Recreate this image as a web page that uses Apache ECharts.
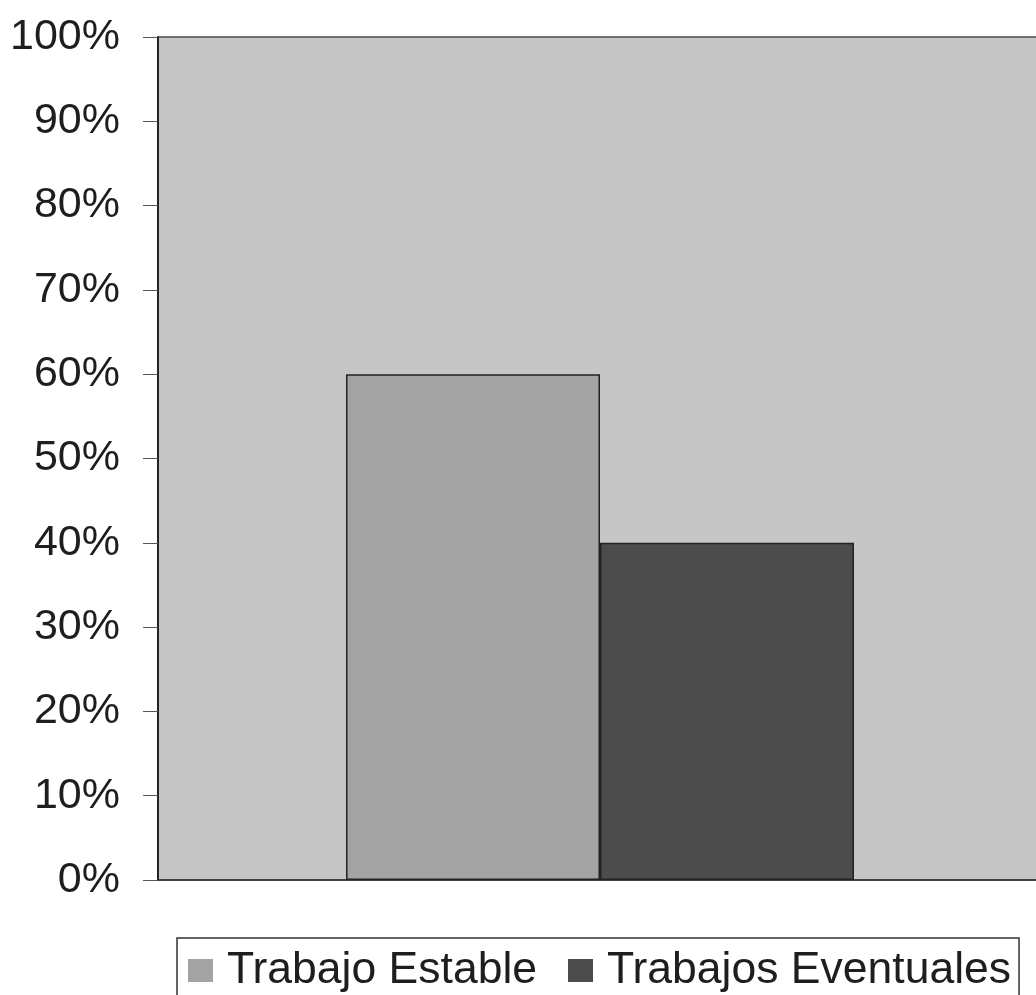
<!DOCTYPE html>
<html>
<head>
<meta charset="utf-8">
<script src="https://cdn.jsdelivr.net/npm/echarts@6/dist/echarts.min.js"></script>
<style>
html,body{margin:0;padding:0;background:#fff;overflow:hidden;width:1036px;height:995px;}
#chart{width:1042px;height:995px;}
</style>
</head>
<body>
<div id="chart"></div>
<script>
const categories = [''];
const seriesNames = ['Trabajo Estable', 'Trabajos Eventuales'];
const trabajoEstable = [60];
const trabajosEventuales = [40];
const yTicks = [0, 10, 20, 30, 40, 50, 60, 70, 80, 90, 100];

const chart = echarts.init(document.getElementById('chart'));
chart.setOption({
  animation: false,
  backgroundColor: '#ffffff',
  grid: {
    left: 158, right: 0, top: 37, bottom: 115,
    show: true, backgroundColor: '#c6c6c6', borderColor: '#4a4a4a', borderWidth: 1.5
  },
  legend: {
    left: 177, top: 938,
    orient: 'horizontal',
    padding: [10, 8, 20, 11],
    borderColor: '#333', borderWidth: 1.5,
    backgroundColor: '#fff',
    itemWidth: 25, itemHeight: 23, itemGap: 31,
    icon: 'rect',
    itemStyle: { borderWidth: 0 },
    textStyle: { fontFamily: 'Liberation Sans, Arial, sans-serif', fontSize: 44.5, color: '#1e1e1e', padding: [0, 0, 0, 9] },
    data: seriesNames
  },
  xAxis: {
    type: 'category',
    data: categories,
    axisLine: { show: true, lineStyle: { color: '#333', width: 1.5 } },
    axisTick: { show: false },
    axisLabel: { show: false }
  },
  yAxis: {
    type: 'value', min: 0, max: 100, interval: 10,
    axisLine: { show: true, lineStyle: { color: '#222', width: 2 } },
    axisTick: { show: true, length: 15, lineStyle: { color: '#555', width: 1 } },
    splitLine: { show: false },
    axisLabel: {
      margin: 38,
      fontFamily: 'Liberation Sans, Arial, sans-serif', fontSize: 43, color: '#1e1e1e',
      formatter: v => yTicks.includes(v) ? v + '%' : ''
    }
  },
  series: [
    {
      name: seriesNames[0], type: 'bar', data: trabajoEstable,
      barWidth: 254, barGap: '0%',
      itemStyle: { color: '#a3a3a3', borderColor: '#222', borderWidth: 1.5 }
    },
    {
      name: seriesNames[1], type: 'bar', data: trabajosEventuales,
      barWidth: 254, barGap: '0%',
      itemStyle: { color: '#4c4c4c', borderColor: '#222', borderWidth: 1.5 }
    }
  ]
});
</script>
</body>
</html>
